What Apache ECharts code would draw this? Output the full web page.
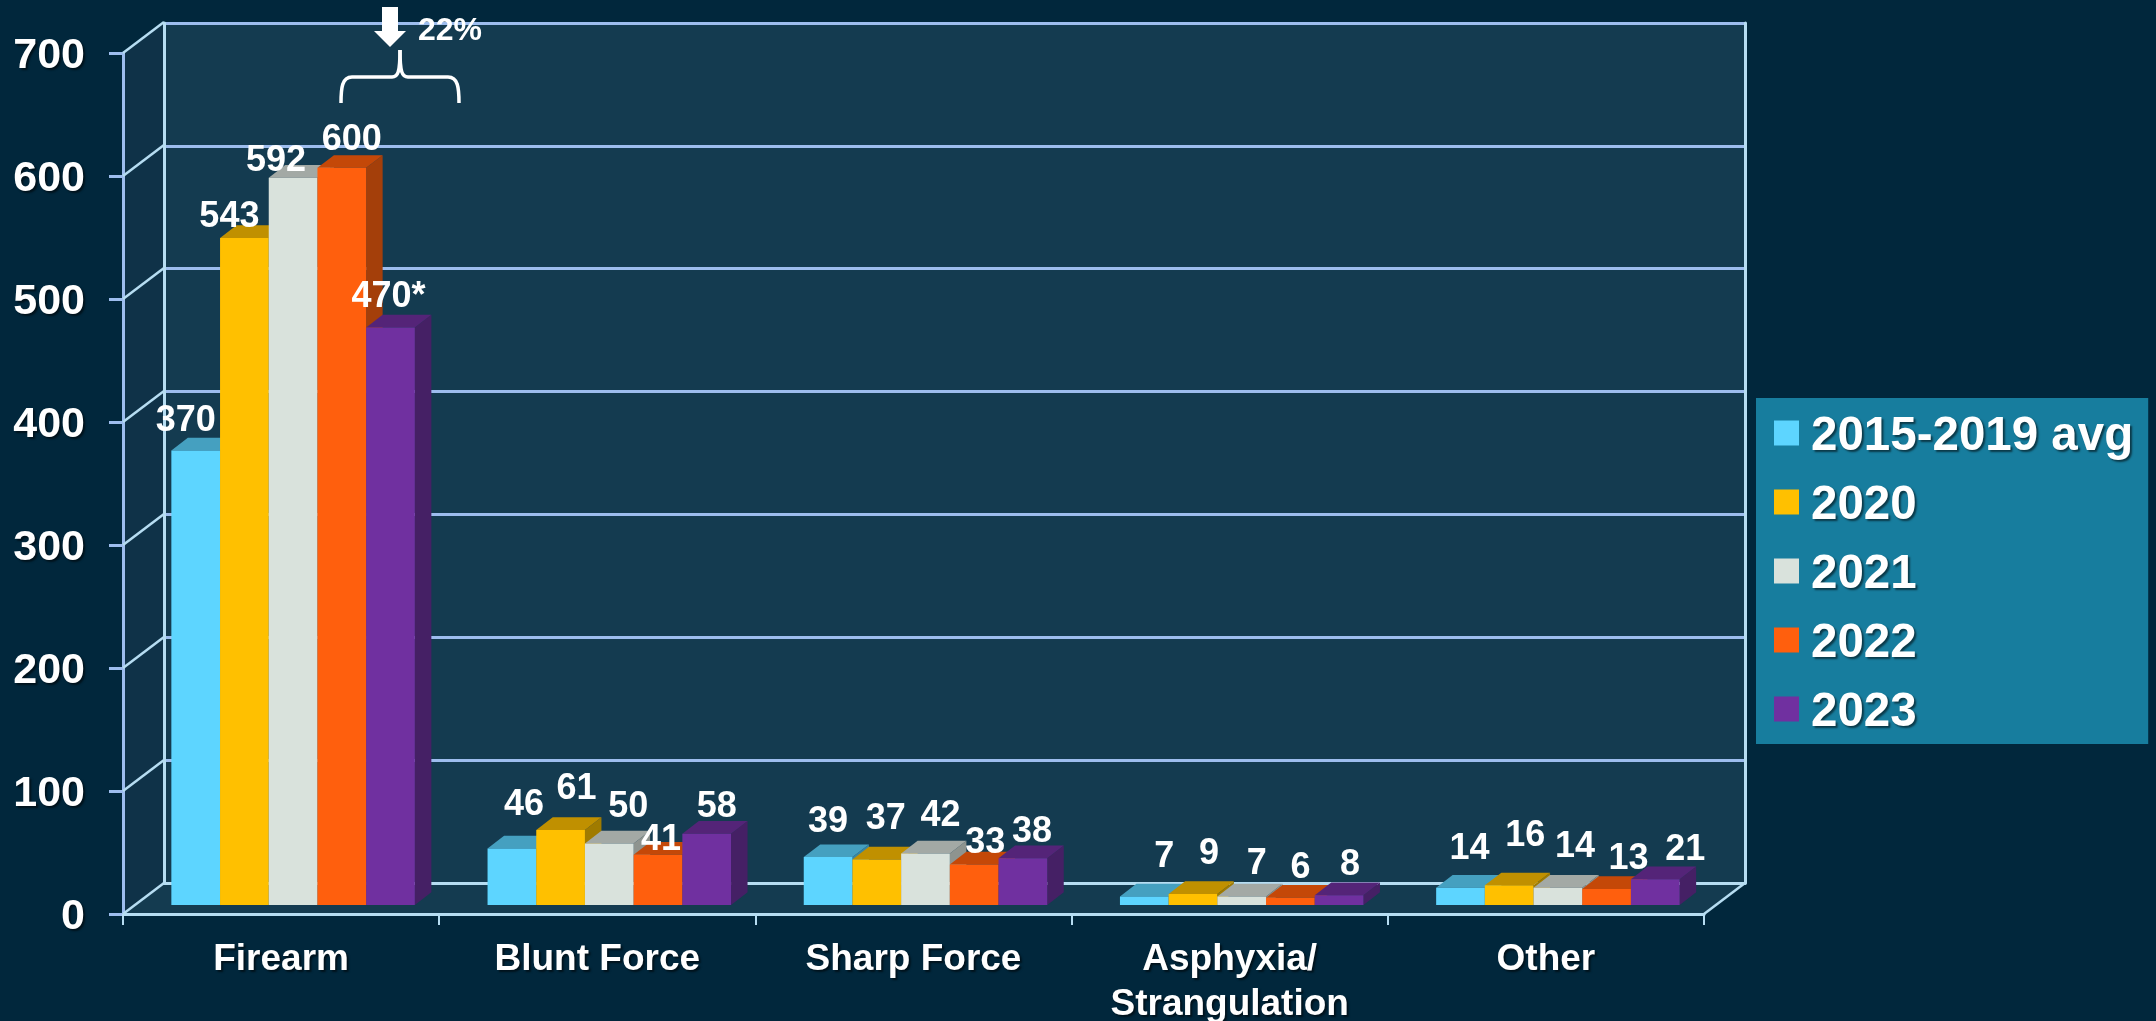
<!DOCTYPE html>
<html><head><meta charset="utf-8">
<style>html,body{margin:0;padding:0;background:#01273c}#c{width:2156px;height:1021px}</style>
<script src="https://cdn.jsdelivr.net/npm/echarts@6/dist/echarts.min.js"></script>
</head><body><div id="c"></div>
<script>
const categories = ['Firearm','Blunt Force','Sharp Force','Asphyxia/\nStrangulation','Other'];
const seriesNames = ['2015-2019 avg','2020','2021','2022','2023'];
const avg2015_2019 = [370,46,39,7,14];
const y2020 = [543,61,37,9,16];
const y2021 = [592,50,42,7,14];
const y2022 = [600,41,33,6,13];
const y2023 = [470,58,38,8,21];
const yTicks = [0,100,200,300,400,500,600,700];
const annotationText = '22%';

// label nudges in px, from bar-front-top-centre, hand-placed as in the reference
const labelNudge = [
 [[-10,-33],[12,-47],[0,-39],[20,-43],[9,-43]],
 [[-15,-25],[16,-45],[9,-44],[16,-44],[16,-53]],
 [[-17,-21],[19,-40],[15,-41],[15,-36],[17,-45]],
 [[10,-32],[3,-19],[11,-25],[10,-34],[22,-34]],
 [[-2,-34],[10,-31],[9,-30],[11,-34],[30,-33]]
];
const values = [avg2015_2019,y2020,y2021,y2022,y2023];
const front = ['#5DD5FF','#FFC000','#D9E2DC','#FF5F0D','#7030A0'];
const topC  = ['#45A0C0','#C09000','#A3A9A5','#C44808','#542478'];
const sideC = ['#3A86A2','#A07B00','#8E948F','#A43F0A','#452065'];
const FONT = '"Liberation Sans",Arial,sans-serif';
const shadow = {textShadowColor:'rgba(0,0,0,0.55)',textShadowBlur:2,textShadowOffsetX:2,textShadowOffsetY:2};

const DX=41, DY=31;      // wall depth
const BX=16.5, BY=12.7;  // bar depth
const BARW=48.7;
const LINE='#9DBDEE', LINE2='#B6DDF2', WALL='#143B50', LWALL='#0F3248';

const barSeries = seriesNames.map((name,si)=>({
  name, type:'custom', xAxisIndex:2, yAxisIndex:3, itemStyle:{color:front[si]},
  encode:{x:0,y:1}, clip:false, silent:true,
  data: values[si].map((v,i)=>[i,v,i]),
  renderItem(params,api){
    const ci=api.value(0), v=api.value(1);
    const p=api.coord([ci,v]), b=api.coord([ci,0]);
    const x0=p[0]+(si-2.5)*BARW, x1=x0+BARW, yt=p[1], yb=b[1];
    const n=labelNudge[si][ci];
    const txt=(si===4&&ci===0)?v+'*':String(v);
    return {type:'group',children:[
      {type:'polygon',z2:si*3+1,shape:{points:[[x1,yt],[x1+BX,yt-BY],[x1+BX,yb-BY],[x1,yb]]},style:{fill:sideC[si]}},
      {type:'polygon',z2:si*3+2,shape:{points:[[x0,yt],[x1,yt],[x1+BX,yt-BY],[x0+BX,yt-BY]]},style:{fill:topC[si]}},
      {type:'rect',z2:si*3+3,shape:{x:x0,y:yt,width:BARW,height:yb-yt},style:{fill:front[si]}},
      {type:'text',z2:100,style:{x:(x0+x1)/2+n[0],y:yt+n[1]+4,text:txt,align:'center',verticalAlign:'middle',
        fill:'#fff',font:'bold 36px '+FONT,shadowColor:'rgba(0,0,0,0.55)',shadowBlur:2,shadowOffsetX:2,shadowOffsetY:2}}
    ]};
  }
}));

const frame = {
  name:'frame', type:'custom', xAxisIndex:0, yAxisIndex:0, silent:true, clip:false, z:0,
  data: yTicks.map(v=>[0,v]), encode:{x:0,y:1},
  renderItem(params,api){
    const r=params.coordSys, v=api.value(1), y=api.coord([0,v])[1];
    const kids=[{type:'line',z2:5,shape:{x1:r.x,y1:y,x2:r.x+DX,y2:y-DY},style:{stroke:LINE2,lineWidth:2.5}}];
    if(v===0){
      kids.push({type:'polygon',z2:-2,shape:{points:[[r.x,y],[r.x+r.width,y],[r.x+r.width+DX,y-DY],[r.x+DX,y-DY]]},style:{fill:WALL}});
      kids.push({type:'polygon',z2:-2,shape:{points:[[r.x,y],[r.x,r.y],[r.x+DX,r.y-DY+1],[r.x+DX,y-DY]]},style:{fill:LWALL}});
      kids.push({type:'line',z2:5,shape:{x1:r.x+r.width,y1:y,x2:r.x+r.width+DX,y2:y-DY},style:{stroke:LINE2,lineWidth:2.5}});
    }
    return {type:'group',children:kids};
  }
};

const brace = {stroke:'#fff',lineWidth:3.5,fill:'none'};
const option = {
  animation:false,
  backgroundColor:'#01273c',
  grid:[
    {left:123,top:53,width:1581,height:861,outerBoundsMode:'none'},
    {left:164,top:23,width:1581,height:860,show:true,backgroundColor:WALL,borderWidth:0,outerBoundsMode:'none'},
    {left:135,top:45,width:1581,height:860,outerBoundsMode:'none'}
  ],
  xAxis:[
    {gridIndex:0,type:'category',data:categories,boundaryGap:true,
     axisLine:{lineStyle:{color:LINE2,width:3}},
     axisTick:{show:true,alignWithLabel:false,length:11,lineStyle:{color:LINE2,width:2}},
     axisLabel:{color:'#fff',fontFamily:FONT,fontWeight:'bold',fontSize:37,lineHeight:45,margin:23,interval:0,...shadow}},
    {gridIndex:1,type:'category',data:categories,show:true,axisLine:{show:true,lineStyle:{color:LINE2,width:3}},axisTick:{show:false},axisLabel:{show:false}},
    {gridIndex:2,type:'category',data:categories,show:false}
  ],
  yAxis:[
    {gridIndex:0,type:'value',min:0,max:700,interval:100,
     axisLine:{show:true,lineStyle:{color:LINE,width:3}},
     axisTick:{show:true,length:14,lineStyle:{color:LINE,width:3}},
     splitLine:{show:false},
     axisLabel:{margin:38,formatter:'{a|{value}}',
       rich:{a:{color:'#fff',fontFamily:FONT,fontWeight:'bold',fontSize:43,lineHeight:49,verticalAlign:'bottom',...shadow}}}},
    {gridIndex:1,type:'value',min:0,max:700,interval:100,
     axisLine:{show:true,lineStyle:{color:LINE2,width:3}},axisTick:{show:false},axisLabel:{show:false},
     splitLine:{show:true,lineStyle:{color:LINE,width:3,type:'solid'}}},
    {gridIndex:1,type:'value',min:0,max:700,interval:100,position:'right',
     axisLine:{show:true,lineStyle:{color:LINE2,width:3}},axisTick:{show:false},axisLabel:{show:false},splitLine:{show:false}},
    {gridIndex:2,type:'value',min:0,max:700,show:false}
  ],
  legend:{
    data:seriesNames, orient:'vertical', left:1756, top:398, icon:'rect',
    itemWidth:25,itemHeight:25,itemGap:21,
    padding:[15,15,7,18], backgroundColor:'#177D9E',
    selectedMode:false,
    formatter:n=>'{a|'+n+'}',
    textStyle:{color:'#fff',padding:[0,0,0,7],
      rich:{a:{color:'#fff',fontFamily:FONT,fontWeight:'bold',fontSize:47.5,lineHeight:56,verticalAlign:'bottom',...shadow}}}
  },
  graphic:[
    {type:'polygon',z:50,shape:{points:[[382,7],[398,7],[398,31],[406,31],[390,47],[374,31],[382,31]]},style:{fill:'#fff'}},
    {type:'bezierCurve',z:50,shape:{x1:341,y1:103,cpx1:341,cpy1:88,cpx2:342,cpy2:77,x2:352,y2:77},style:brace},
    {type:'line',z:50,shape:{x1:352,y1:77,x2:392,y2:77},style:brace},
    {type:'bezierCurve',z:50,shape:{x1:392,y1:77,cpx1:398,cpy1:77,cpx2:400,cpy2:72,x2:400,y2:50},style:brace},
    {type:'bezierCurve',z:50,shape:{x1:408,y1:77,cpx1:402,cpy1:77,cpx2:400,cpy2:72,x2:400,y2:50},style:brace},
    {type:'line',z:50,shape:{x1:408,y1:77,x2:448,y2:77},style:brace},
    {type:'bezierCurve',z:50,shape:{x1:459,y1:103,cpx1:459,cpy1:88,cpx2:458,cpy2:77,x2:448,y2:77},style:brace},
    {type:'text',z:50,left:418,top:15,style:{text:annotationText,fill:'#fff',font:'bold 32px '+FONT,shadowColor:'rgba(0,0,0,0.4)',shadowBlur:2,shadowOffsetX:2,shadowOffsetY:2}}
  ],
  series:[frame,...barSeries]
};
echarts.init(document.getElementById('c'),null,{renderer:'canvas'}).setOption(option);
</script></body></html>
